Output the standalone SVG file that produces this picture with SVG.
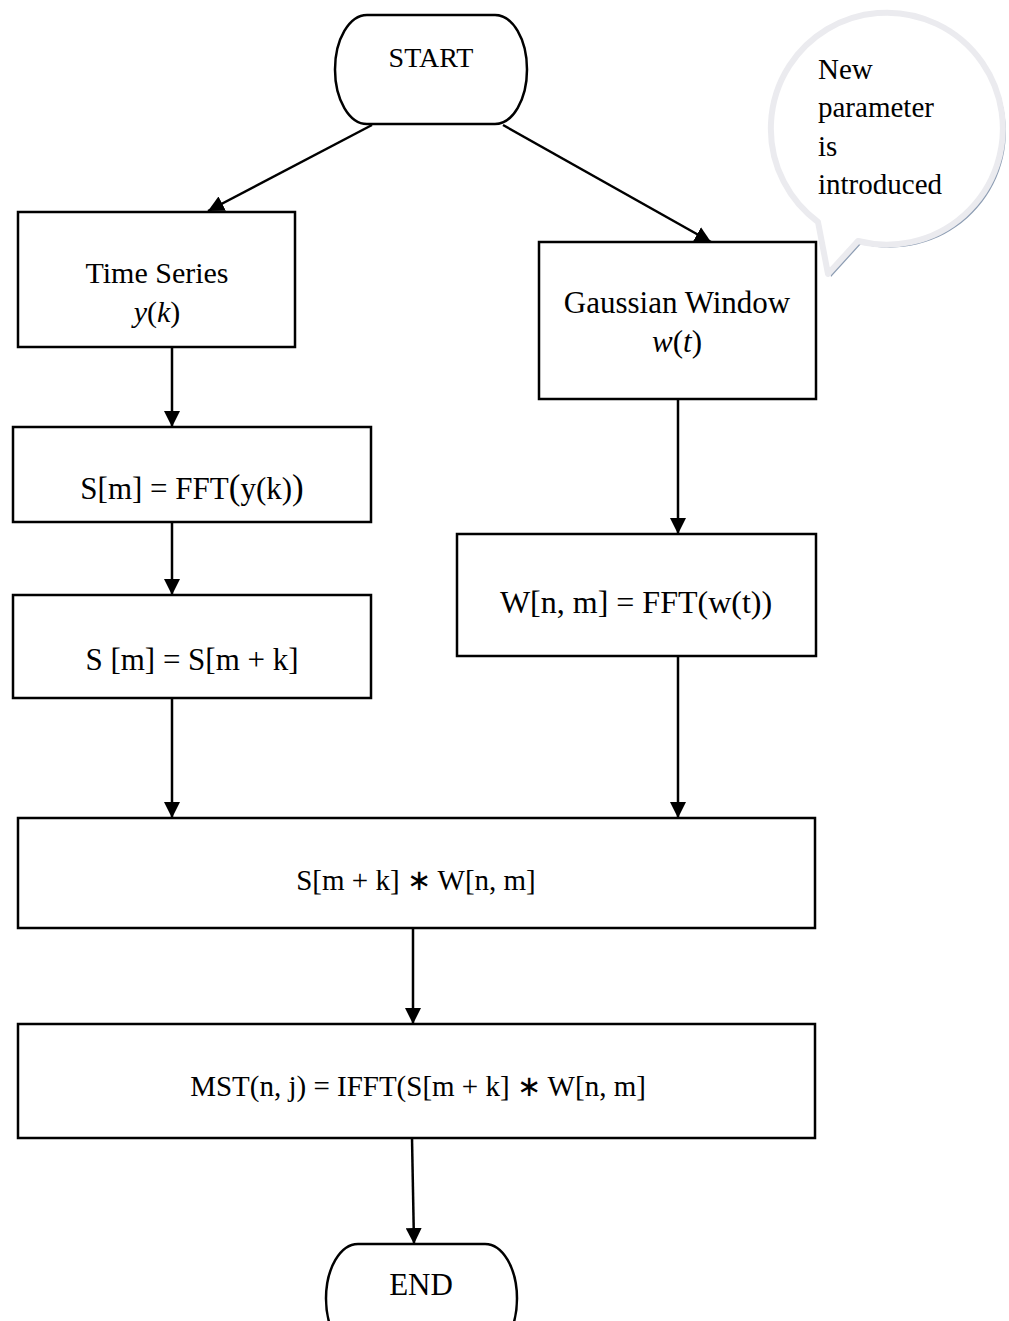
<svg xmlns="http://www.w3.org/2000/svg" width="1009" height="1321" viewBox="0 0 1009 1321">
<style>
.box{fill:#fff;stroke:#000;stroke-width:2.5}
.t{font-family:"Liberation Serif","Times New Roman",serif;font-size:30px;fill:#000;text-anchor:middle}
.c{font-family:"Liberation Serif","Times New Roman",serif;font-size:29px;fill:#000}
.i{font-style:italic}
.ln{stroke:#000;stroke-width:2.5;fill:none}
</style>
<defs>
<marker id="ah" viewBox="0 0 16 16" refX="16" refY="8" markerWidth="16" markerHeight="16" markerUnits="userSpaceOnUse" orient="auto">
<path d="M0,0 L16,8 L0,16 Z" fill="#000"/>
</marker>
</defs>
<rect width="1009" height="1321" fill="#fff"/>

<g id="callout">
<path d="M858,241 A116,116 0 1 0 818,222 L828,274 Z" transform="translate(3,3)" fill="#8d9db3"/>
<path d="M858,241 A116,116 0 1 0 818,222 L828,274 Z" fill="#fff" stroke="#ebebef" stroke-width="6" stroke-linejoin="round"/>
<text class="c" x="818" y="79">New</text>
<text class="c" x="818" y="117">parameter</text>
<text class="c" x="818" y="156">is</text>
<text class="c" x="818" y="194">introduced</text>
</g>

<g id="connectors">
<line class="ln" x1="372" y1="125" x2="208" y2="211" marker-end="url(#ah)"/>
<line class="ln" x1="503" y1="125" x2="711" y2="242" marker-end="url(#ah)"/>
<line class="ln" x1="172" y1="347" x2="172" y2="427" marker-end="url(#ah)"/>
<line class="ln" x1="172" y1="522" x2="172" y2="595" marker-end="url(#ah)"/>
<line class="ln" x1="172" y1="698" x2="172" y2="818" marker-end="url(#ah)"/>
<line class="ln" x1="678" y1="399" x2="678" y2="534" marker-end="url(#ah)"/>
<line class="ln" x1="678" y1="656" x2="678" y2="818" marker-end="url(#ah)"/>
<line class="ln" x1="413" y1="928" x2="413" y2="1024" marker-end="url(#ah)"/>
<line class="ln" x1="412" y1="1138" x2="414" y2="1244" marker-end="url(#ah)"/>
</g>

<g id="start">
<rect class="box" x="335" y="15" width="192" height="109" rx="32" ry="54.5"/>
<text class="t" x="431" y="67" style="font-size:28px">START</text>
</g>

<g id="timeseries">
<rect class="box" x="18" y="212" width="277" height="135"/>
<text class="t" x="157" y="283">Time Series</text>
<text class="t" x="157" y="322"><tspan class="i">y</tspan>(<tspan class="i">k</tspan>)</text>
</g>

<g id="gaussian">
<rect class="box" x="539" y="242" width="277" height="157"/>
<text class="t" x="677" y="313" style="font-size:31px">Gaussian Window</text>
<text class="t" x="677" y="352" style="font-size:31px"><tspan class="i">w</tspan>(<tspan class="i">t</tspan>)</text>
</g>

<g id="fft_s">
<rect class="box" x="13" y="427" width="358" height="95"/>
<text class="t" x="192" y="499" style="font-size:31px">S[m] = FFT<tspan style="font-size:35px">(</tspan>y(k)<tspan style="font-size:35px">)</tspan></text>
</g>

<g id="shift">
<rect class="box" x="13" y="595" width="358" height="103"/>
<text class="t" x="192" y="670" style="font-size:31px">S [m] = S[m + k]</text>
</g>

<g id="fft_w">
<rect class="box" x="457" y="534" width="359" height="122"/>
<text class="t" x="636" y="613" style="font-size:32px">W[n, m] = FFT(w(t))</text>
</g>

<g id="product">
<rect class="box" x="18" y="818" width="797" height="110"/>
<text class="t" x="416" y="890" style="font-size:29px">S[m + k] ∗ W[n, m]</text>
</g>

<g id="mst">
<rect class="box" x="18" y="1024" width="797" height="114"/>
<text class="t" x="418" y="1096" style="font-size:29px">MST(n, j) = IFFT(S[m + k] ∗ W[n, m]</text>
</g>

<g id="end">
<rect class="box" x="326" y="1244" width="191" height="109" rx="32" ry="54.5"/>
<text class="t" x="421" y="1295" style="font-size:31px">END</text>
</g>
</svg>
